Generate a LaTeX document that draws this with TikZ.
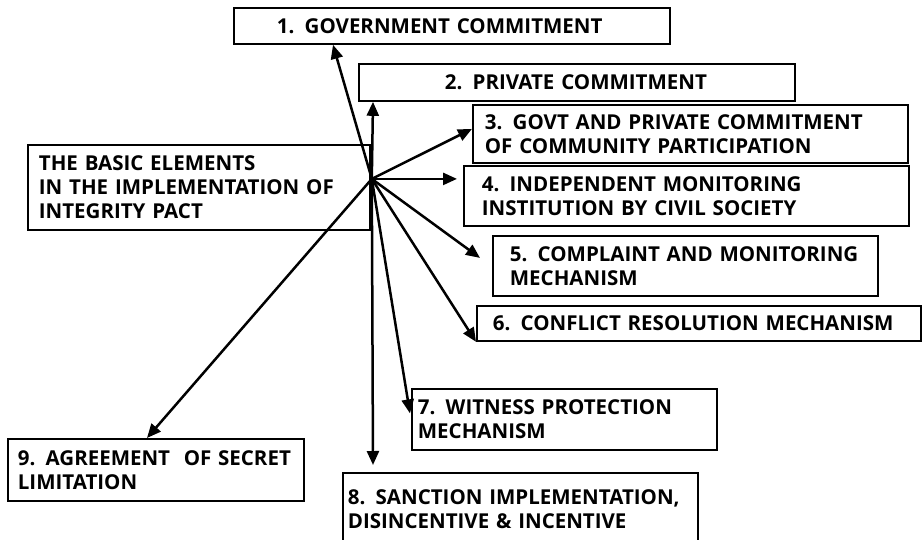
\documentclass[tikz,border=0pt]{standalone}
\usepackage{fontspec}
\newfontfamily\elemfont{Open Sans}
\usetikzlibrary{positioning,arrows.meta,calc}

\begin{document}
\begin{tikzpicture}[x=1pt,y=-1pt,
  elem/.style={draw,line width=1.8pt,anchor=north west,inner xsep=0pt,inner ysep=0pt,align=left,
    font=\elemfont\bfseries\fontsize{20.5}{24}\selectfont},
  lpad/.style={execute at begin node={\def\ind{\hspace*{#1}}}},
  arr/.style={line width=2.5pt,-{Triangle[length=14pt,width=12pt]}}]
\useasboundingbox (0,0) rectangle (924,539);
\clip (0,0) rectangle (924,539);

\node[elem,lpad=11pt,text width=342pt,minimum height=85pt] (main) at (27,144) {\ind THE BASIC ELEMENTS\\\ind IN THE IMPLEMENTATION OF\\\ind INTEGRITY PACT};
\coordinate (hub) at ($(main.east)+(1,-8.5)$);

\node[elem,lpad=43pt,text width=436pt,minimum height=36pt] (b1) at (233,7) {\ind 1. GOVERNMENT COMMITMENT};
\node[elem,lpad=86pt,text width=436pt,minimum height=37pt] (b2) at (358,63) {\ind 2. PRIVATE COMMITMENT};
\node[elem,lpad=12pt,text width=435pt,minimum height=58pt] (b3) at (472,104) {\ind 3. GOVT AND PRIVATE COMMITMENT\\\ind OF COMMUNITY PARTICIPATION};
\node[elem,lpad=18pt,text width=445pt,minimum height=60pt] (b4) at (463,165) {\ind 4. INDEPENDENT MONITORING\\\ind INSTITUTION BY CIVIL SOCIETY};
\node[elem,lpad=17pt,text width=385pt,minimum height=60pt] (b5) at (492,235) {\ind 5. COMPLAINT AND MONITORING\\\ind MECHANISM};
\node[elem,lpad=16pt,text width=444pt,minimum height=35pt] (b6) at (476,305) {\ind 6. CONFLICT RESOLUTION MECHANISM};
\node[elem,lpad=6pt,text width=305pt,minimum height=61pt] (b7) at (411,388) {\ind 7. WITNESS PROTECTION\\\ind MECHANISM};
\node[elem,lpad=5pt,text width=355pt,minimum height=72pt] (b8) at (342,472) {\ind 8. SANCTION IMPLEMENTATION,\\\ind DISINCENTIVE \& INCENTIVE};
\node[elem,lpad=10pt,text width=296pt,minimum height=62pt] (b9) at (7,438) {\ind 9. AGREEMENT\ \ OF SECRET\\\ind LIMITATION};

\draw[arr] (hub)--([xshift=100pt]b1.south west);
\draw[arr] (hub)--([xshift=15pt]b2.south west);
\draw[arr] (hub)--([yshift=5pt]b3.west);
\draw[arr] (hub)--($(hub -| b4.west)+(-6,0)$);
\draw[arr] (hub)--($(b5.west)+(-12,-8)$);
\draw[arr] (hub)--(b6.south west);
\draw[arr] (hub)--($(b7.west)+(-1,-6)$);
\draw[arr] (hub)--($(b8.north west)+(31,-7)$);
\draw[arr] (hub)--($(b9.north west)+(140,0)$);
\end{tikzpicture}
\end{document}
